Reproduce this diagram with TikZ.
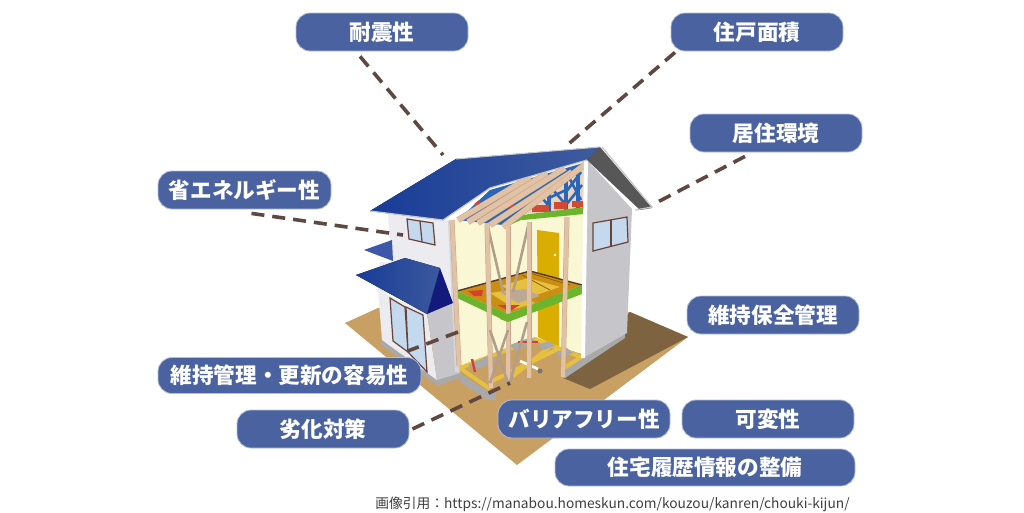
\documentclass[tikz,border=0pt]{standalone}
\usepackage{fontspec}
\newfontfamily\cjk{Noto Sans CJK JP}
\definecolor{pillc}{HTML}{4A62A0}
\definecolor{pilledge}{HTML}{B4BEDA}
\definecolor{connc}{HTML}{5F4842}
\definecolor{ground}{HTML}{C9A063}
\definecolor{shadowc}{HTML}{7D6340}
\definecolor{roofa}{HTML}{183C98}
\definecolor{roofb}{HTML}{3F5C9E}
\definecolor{navy}{HTML}{141A7C}
\definecolor{wallg}{HTML}{C6C6CA}
\definecolor{wallw}{HTML}{ECECF0}
\definecolor{plinth}{HTML}{A9A9A9}
\definecolor{cream}{HTML}{FAF8D4}
\definecolor{woodc}{HTML}{E2C2A4}
\definecolor{woode}{HTML}{C9A88C}
\definecolor{braceg}{HTML}{B39E8C}
\definecolor{greenb}{HTML}{6CB42C}
\definecolor{doorc}{HTML}{D9AE00}
\definecolor{joist}{HTML}{E6C040}
\definecolor{floorb}{HTML}{C98E12}
\definecolor{trussb}{HTML}{2A66B8}
\definecolor{redp}{HTML}{D8402E}
\definecolor{frame}{HTML}{6A4238}
\definecolor{glass}{HTML}{C4D8EE}
\definecolor{darkedge}{HTML}{575757}
\tikzset{
  pill/.style={draw=pilledge,line width=.8pt,fill=pillc,rounded corners=14pt,inner sep=0pt,
    text=white,font=\cjk\bfseries\fontsize{21.6}{22}\selectfont,anchor=center},
  conn/.style={draw=connc,line width=3.6pt,dash pattern=on 13pt off 8pt},
  wood/.style={draw=woode,line width=.5pt,double=woodc,double distance=4pt},
  rafter/.style={draw=woode,line width=.5pt,double=woodc,double distance=5pt},
  brace/.style={draw=braceg,line width=2.6pt},
  winframe/.style={draw=frame,line width=1.2pt,fill=glass},
  joistline/.style={draw=joist,line width=4pt},
  grayblock/.style={draw=none,fill=plinth},
}
\begin{document}
\begin{tikzpicture}[x=1pt,y=-1pt]
\useasboundingbox (0,0) rectangle (1024,512);
\fill[white] (0,0) rectangle (1024,512);
% ground
\fill[ground] (345,323) -- (378,308) -- (630,312) -- (688,337) -- (517,465) -- cycle;
\fill[shadowc] (630,312) -- (688,337) -- (590,389) -- (563,378) -- cycle;
% plinths
\fill[plinth] (382,340) -- (437,380) -- (462,372) -- (462,377) -- (438,386) -- (380,344) -- cycle;
\fill[plinth] (460,374) -- (490,392) -- (496,392) -- (496,400) -- (488,400) -- (460,382) -- cycle;
\fill[plinth] (563,368) -- (625,332) -- (625,338) -- (565,378) -- (561,378) -- cycle;
% upper-left wall and porch
\fill[wallw] (388,213) -- (450,220) -- (458,300) -- (440,300) -- (378,292) -- (380,262) -- (391,262) -- cycle;
\fill[wallw] (378,290) -- (427,314) -- (437,380) -- (382,340) -- cycle;
\fill[wallg] (427,312) -- (457,300) -- (460,373) -- (437,380) -- cycle;
\fill[wallg!70!white] (448,221) -- (452,221) -- (459,372) -- (455,372) -- cycle;
% bay windows
\draw[winframe] (390,298) -- (405,307) -- (408,352) -- (393,341) -- cycle;
\draw[winframe] (406,307) -- (423,315) -- (427,372) -- (408,352) -- cycle;
% upper window
\draw[winframe] (407,219) -- (433,223) -- (435,245) -- (409,239) -- cycle;
\draw[frame,line width=1.2pt] (420,221) -- (422,242);
% roofs of the left side
\fill[roofa!85!white] (364,250) -- (392,240) -- (393,261) -- cycle;
\fill[left color=roofa,right color=roofb!90!roofa] (356,275) -- (405,258) -- (440,268) -- (427,314) -- cycle;
\fill[navy] (440,268) -- (453,303) -- (427,314) -- cycle;
% interior
\fill[cream] (453,222) -- (520,195) -- (585,165) -- (585,355) -- (535,339) -- (460,368) -- cycle;
% attic
\fill[woodc!70!white] (515,215) -- (585,165) -- (585,209) -- cycle;
\foreach \a/\b in {535/200,549/192,566/180,578/172}{
  \draw[trussb,line width=4pt] (\a,\b) -- (\a,212);
}
\draw[trussb,line width=2.6pt] (535,190) -- (549,206) (549,185) -- (566,205) (566,172) -- (581,200) (581,172) -- (566,192) (549,198) -- (566,190) (566,205) -- (582,185);
\fill[redp!85!brown] (532,205) rectangle (549,212);
\fill[redp!85!brown] (554,202) rectangle (567,209);
\fill[redp!85!brown] (572,201) rectangle (583,207);
\fill[greenb] (515,216) -- (584,207) -- (584,214) -- (523,220) -- cycle;
% roof underside strip
\fill[trussb] (458,220) -- (490,190) -- (587,162) -- (530,207) -- (503,225) -- cycle;
\foreach \p/\q in {463/214,474/215,485/216,497/218}{
  \draw[greenb,line width=3.4pt] (\p,\q+4) -- (\p+7,\q-1);
  \draw[redp,line width=2.6pt] (\p+12,\q-9) -- (\p+17,\q-13);
}
\fill[greenb] (505,223) -- (517,214) -- (523,219) -- (510,225) -- cycle;
% rafters
\draw[rafter] (458,220) -- (530,177);
\draw[rafter] (468,222) -- (547,173);
\draw[rafter] (478,223) -- (565,168);
\draw[rafter] (490,225) -- (572,172);
\draw[rafter] (503,227) -- (587,163);
% door
\fill[doorc] (537,230) -- (559,233) -- (559,348) -- (538,337) -- cycle;
\fill[white] (555,255) circle (1.3);
% second floor surface
\fill[floorb] (457,291) -- (530,271) -- (582,285) -- (508,314) -- cycle;
\fill[joist] (500,286) -- (528,278) -- (560,287) -- (530,297) -- cycle;
\draw[floorb!70!black,line width=.8pt] (530,273) -- (570,285) (522,275) -- (550,290);
\fill[joist] (490,293) -- (510,290) -- (535,303) -- (515,309) -- cycle;
\fill[braceg!90!white] (500,292) -- (525,289) -- (540,296) -- (518,303) -- cycle;
\fill[redp] (468,291) -- (483,290) -- (482,296) -- (474,296) -- cycle;
\fill[redp] (497,305) -- (520,305) -- (510,311) -- cycle;
\draw[frame!80!black,line width=1.4pt] (457,291) -- (530,271) -- (582,285);
\draw[brace] (487,223) -- (503,292);
\draw[brace] (529,222) -- (513,292);
% green beam
\fill[greenb] (457,291) -- (508,314) -- (582,285) -- (582,294) -- (508,322) -- (457,298) -- cycle;
% floor frame
\fill[ground] (462,370) -- (535,340) -- (580,358) -- (563,370) -- (490,392) -- cycle;
\draw[joistline] (460,368) -- (535,339) -- (581,357) -- (564,368);
\draw[joistline] (460,368) -- (490,389);
\draw[joistline] (490,382) -- (560,348);
\draw[joistline] (513,376) -- (552,345);
\fill[grayblock] (468,365) -- (490,355) -- (497,360) -- (476,370) -- cycle;
\fill[grayblock] (510,345) -- (531,337) -- (537,342) -- (515,351) -- cycle;
\fill[grayblock] (538,345) -- (549,341) -- (555,346) -- (544,350) -- cycle;
\fill[grayblock] (555,353) -- (567,348) -- (573,353) -- (561,358) -- cycle;
\draw[white,line width=2.6pt] (520,361) -- (538,369);
\fill[plinth!70!black] (540,371) circle (2.5);
\draw[redp,line width=2.4pt] (472,359) -- (475,372);
\draw[redp,line width=2.6pt] (518,342) -- (538,342);
% posts
\draw[wood] (452,220) -- (459,366);
\draw[wood] (487,223) -- (491,388);
\draw[wood] (508,226) -- (508,383);
\draw[wood] (529,222) -- (529,378);
\draw[wood] (567,217) -- (563,377);
\draw[brace] (490,330) -- (508,383);
\draw[brace] (508,330) -- (490,383);
\draw[brace] (527,322) -- (510,382);
\fill[greenb] (500,312) -- (508,314) -- (515,312) -- (515,319) -- (508,322) -- (500,319) -- cycle;
% right wall
\fill[wallg] (587,160) -- (632,209) -- (627,333) -- (583,358) -- cycle;
\fill[white] (584,160) -- (588,160) -- (585,358) -- (581,358) -- cycle;
\draw[winframe] (593,223) -- (627,217) -- (628,242) -- (593,251) -- cycle;
\draw[frame,line width=1.2pt] (611,220) -- (611,246);
% main roof
\fill[left color=roofa,right color=roofb] (370,211) -- (456,159) -- (600,147) -- (587,160) -- (490,188) -- (443,220) -- cycle;
\draw[wallg,line width=1.2pt] (370,211) -- (443,220) -- (490,188) -- (587,160);
\draw[wallg,line width=1pt] (456,159) -- (600,147);
\fill[darkedge] (600,147) -- (652,208) -- (640,210) -- (587,160) -- cycle;
\draw[wallg,line width=1.2pt] (602,147) -- (652,207) -- (635,210);
% labels
\node[pill,minimum width=172pt,minimum height=38pt] (sei) at (382,32) {\raisebox{-3pt}{耐震性}};
\node[pill,minimum width=172pt,minimum height=38pt] (men) at (757,32) {\raisebox{-3pt}{住戸面積}};
\node[pill,minimum width=172pt,minimum height=38pt] (kyo) at (776,133) {\raisebox{-3pt}{居住環境}};
\node[pill,minimum width=173pt,minimum height=38pt] (sho) at (244.5,190) {\raisebox{-3pt}{省エネルギー性}};
\node[pill,minimum width=172pt,minimum height=38pt] (hoz) at (773,315) {\raisebox{-3pt}{維持保全管理}};
\node[pill,minimum width=263pt,minimum height=36pt] (iji) at (289.5,375.5) {\raisebox{-3pt}{維持管理・更新の容易性}};
\node[pill,minimum width=172pt,minimum height=38pt] (ret) at (323,429) {\raisebox{-3pt}{劣化対策}};
\node[pill,minimum width=172pt,minimum height=38pt] (bar) at (584,419) {\raisebox{-3pt}{バリアフリー性}};
\node[pill,minimum width=172pt,minimum height=38pt] (kah) at (768,419) {\raisebox{-3pt}{可変性}};
\node[pill,minimum width=300pt,minimum height=37pt] (rir) at (705,467.5) {\raisebox{-3pt}{住宅履歴情報の整備}};
\node[anchor=center,inner sep=0pt,text=black!75,font=\cjk\fontsize{13.75}{14}\selectfont] (src) at (612.5,504) {画像引用：https://manabou.homeskun.com/kouzou/kanren/chouki-kijun/};
% connectors
\coordinate (e1) at (443,155);
\coordinate (e2) at (565,147);
\coordinate (e3) at (652,205);
\coordinate (e4) at (403,235);
\coordinate (e5) at (458,332);
\coordinate (e6) at (510,383);
\draw[conn] ([xshift=-22pt,yshift=-5pt]sei.south) -- (e1);
\draw[conn] ([xshift=-82pt,yshift=-1pt]men.south) -- (e2);
\draw[conn] ([xshift=-31pt,yshift=-4pt]kyo.south) -- (e3);
\draw[conn] ([xshift=7pt,yshift=-4pt]sho.south) -- (e4);
\draw[conn] (e5) -- ([xshift=118pt,yshift=6pt]iji.north);
\draw[conn] ([xshift=3pt,yshift=0pt]ret.east) -- (e6);
\end{tikzpicture}
\end{document}
